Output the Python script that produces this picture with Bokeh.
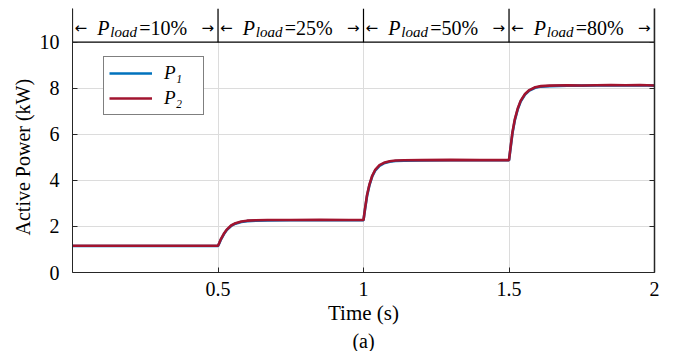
from bokeh.plotting import figure
from bokeh.models import Range1d, LinearAxis, FixedTicker, Legend, LegendItem, Title
from bokeh.embed import file_html
from bokeh.resources import INLINE
from bokeh.core.properties import value

# ---------------- data ----------------
time_s = [0.0, 0.1, 0.2, 0.3, 0.4, 0.5, 0.505, 0.51, 0.52, 0.53, 0.545, 0.56, 0.58, 0.60,
          0.63, 0.67, 0.75, 0.85, 0.95, 1.0, 1.005, 1.012, 1.02, 1.03, 1.04, 1.055, 1.07,
          1.09, 1.11, 1.14, 1.2, 1.3, 1.4, 1.5, 1.505, 1.512, 1.52, 1.53, 1.54, 1.555,
          1.57, 1.59, 1.61, 1.64, 1.7, 1.75, 1.8, 1.85, 1.9, 1.95, 2.0]
p1_kw = [1.15, 1.15, 1.15, 1.15, 1.15, 1.15,
         1.28, 1.43, 1.66, 1.84, 2.02, 2.12, 2.19, 2.23, 2.25, 2.26, 2.27, 2.27, 2.27, 2.27,
         2.72, 3.31, 3.77, 4.17, 4.42, 4.63, 4.74, 4.81, 4.84, 4.85, 4.86, 4.87, 4.87, 4.87,
         5.36, 6.05, 6.61, 7.08, 7.42, 7.72, 7.90, 8.02, 8.07, 8.09, 8.11, 8.11, 8.12, 8.12,
         8.12, 8.13, 8.11]
p2_kw = [1.16, 1.16, 1.16, 1.16, 1.16, 1.16,
         1.30, 1.45, 1.68, 1.86, 2.04, 2.14, 2.21, 2.25, 2.27, 2.28, 2.28, 2.29, 2.28, 2.28,
         2.75, 3.35, 3.80, 4.20, 4.45, 4.66, 4.76, 4.83, 4.86, 4.87, 4.88, 4.89, 4.88, 4.88,
         5.40, 6.10, 6.65, 7.12, 7.45, 7.75, 7.92, 8.04, 8.09, 8.11, 8.13, 8.12, 8.13, 8.14,
         8.13, 8.14, 8.12]
series_labels = ["P\u2081", "P\u2082"]
load_bounds = [0.0, 0.5, 1.0, 1.5, 2.0]
load_values = ["=10%", "=25%", "=50%", "=80%"]
x_ticks = [0.5, 1, 1.5, 2]
y_ticks = [0, 2, 4, 6, 8, 10]
y_grid = [2, 4, 6, 8]
x_grid = [0.5, 1, 1.5]

FONT = "Liberation Serif"
BLUE = "#0072BD"
RED = "#A2142F"
AX = "#262626"
Y_TOP = 11.46
HEAD_Y = 10.0

p = figure(width=673, height=351, output_backend="svg", toolbar_location=None,
           x_range=Range1d(0, 2), y_range=Range1d(0, Y_TOP),
           min_border_left=72, min_border_right=19, min_border_top=8, min_border_bottom=76)
p.outline_line_color = None
p.background_fill_color = "white"
p.border_fill_color = "white"

# axes
for ax in (p.xaxis[0], p.yaxis[0]):
    ax.axis_line_color = AX
    ax.major_tick_line_color = AX
    ax.major_tick_in = 5
    ax.major_tick_out = 0
    ax.minor_tick_line_color = None
    ax.major_label_text_font = FONT
    ax.major_label_text_font_size = "20px"
    ax.major_label_text_color = "black"
p.xaxis.ticker = FixedTicker(ticks=x_ticks)
p.yaxis.ticker = FixedTicker(ticks=y_ticks)
p.xaxis.major_label_standoff = 9
p.yaxis.major_label_standoff = 13
p.xaxis.axis_label = "Time (s)"
p.xaxis.axis_label_text_font = FONT
p.xaxis.axis_label_text_font_style = "normal"
p.xaxis.axis_label_text_font_size = "21px"
p.xaxis.axis_label_text_color = "black"
p.xaxis.axis_label_standoff = 2

r_ax = LinearAxis(ticker=FixedTicker(ticks=y_ticks),
                  major_label_overrides={t: "" for t in y_ticks},
                  major_tick_in=5, major_tick_out=0, major_label_standoff=0,
                  axis_line_color=AX, axis_line_width=1.5, major_tick_line_color=AX,
                  minor_tick_line_color=None)
p.add_layout(r_ax, "right")

# grids
p.xgrid.ticker = FixedTicker(ticks=x_grid)
p.ygrid.ticker = FixedTicker(ticks=y_grid)
p.xgrid.grid_line_color = "#dcdcdc"
p.ygrid.grid_line_color = "#dcdcdc"

# curves
r1 = p.line(time_s, p1_kw, line_color=BLUE, line_width=2.6)
r2 = p.line(time_s, p2_kw, line_color=RED, line_width=2.6)

# header
p.segment(x0=load_bounds, y0=[HEAD_Y] * len(load_bounds), x1=load_bounds,
          y1=[Y_TOP] * len(load_bounds), line_color="black", line_width=1.2)
p.segment(x0=[load_bounds[0]], y0=[HEAD_Y], x1=[load_bounds[-1]], y1=[HEAD_Y],
          line_color="black", line_width=1.2)
centers = [(a + b) / 2 for a, b in zip(load_bounds[:-1], load_bounds[1:])]
n = len(centers)
p.text(x=centers, y=[10.6] * n, text=["P"] * n, x_offset=-48, text_font=value(FONT),
       text_font_style="italic", text_font_size="20px", text_align="left",
       text_baseline="alphabetic", text_color="black")
p.text(x=centers, y=[10.43] * n, text=["load"] * n, x_offset=-35, text_font=value(FONT),
       text_font_style="italic", text_font_size="15px", text_align="left",
       text_baseline="alphabetic", text_color="black")
p.text(x=centers, y=[10.6] * n, text=load_values, x_offset=-6, text_font=value(FONT),
       text_font_size="20px", text_align="left", text_baseline="alphabetic",
       text_color="black")
p.text(x=load_bounds[:-1], y=[10.6] * n, text=["\u2190"] * n, x_offset=2,
       text_font=value("DejaVu Sans"), text_font_size="15px", text_align="left",
       text_baseline="alphabetic", text_color="black")
p.text(x=load_bounds[1:], y=[10.6] * n, text=["\u2192"] * n, x_offset=-4,
       text_font=value("DejaVu Sans"), text_font_size="15px", text_align="right",
       text_baseline="alphabetic", text_color="black")

# legend
legend = Legend(items=[LegendItem(label=series_labels[0], renderers=[r1]),
                       LegendItem(label=series_labels[1], renderers=[r2])],
                location=(31, 157), border_line_color="black", border_line_width=1,
                background_fill_color="white", background_fill_alpha=1.0,
                label_text_font=FONT, label_text_font_style="italic",
                label_text_font_size="19px", label_text_color="black",
                glyph_width=43, glyph_height=12, label_height=12, label_width=34,
                spacing=3, padding=5, label_standoff=12, margin=0)
p.add_layout(legend)

# y-axis title (side title so it can be offset like the reference)
p.add_layout(Title(text="Active Power (kW)", align="left", offset=37, standoff=6,
                   text_font=FONT, text_font_style="normal", text_font_size="20px",
                   text_color="black"), "left")
# caption below
p.add_layout(Title(text="(a)", align="center", standoff=0, text_font=FONT,
                   text_font_style="normal", text_font_size="20px",
                   text_color="black"), "below")

open("out.html", "w").write(file_html(p, INLINE))
